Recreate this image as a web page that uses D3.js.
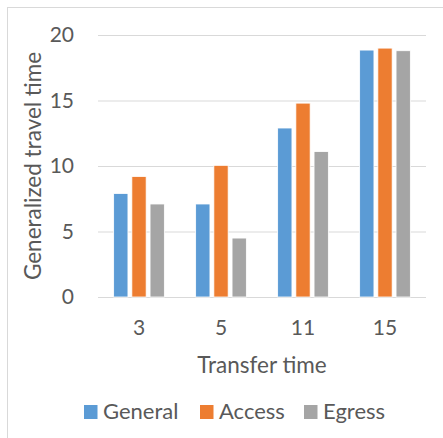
<!DOCTYPE html>
<html>
<head>
<meta charset="utf-8">
<script src="https://cdn.jsdelivr.net/npm/d3@7"></script>
<style>
  html, body { margin: 0; padding: 0; background: #fff; }
  svg { display: block; font-family: Lato, "Open Sans", sans-serif; }
</style>
</head>
<body>
<svg id="chart" width="443" height="438"></svg>
<script>
// Categories (transfer time) and series values (generalized travel time)
const categories = ["3", "5", "11", "15"];
const seriesNames = ["General", "Access", "Egress"];
const general = [7.9, 7.1, 12.9, 18.85];
const access = [9.2, 10.05, 14.8, 19.0];
const egress = [7.1, 4.5, 11.1, 18.8];
const yTicks = [0, 5, 10, 15, 20];
const colors = ["#5b9bd5", "#ed7d31", "#a5a5a5"];

const seriesValues = [general, access, egress];
const rows = categories.map((c, i) => ({
  cat: c,
  values: seriesNames.map((s, j) => ({ key: s, value: seriesValues[j][i] }))
}));

const svg = d3.select("#chart");
const textColor = "#595959";
const gridColor = "#d9d9d9";

// chart frame (only top/left edges fall inside the view)
svg.append("rect")
  .attr("x", 7.5).attr("y", 7.5)
  .attr("width", 600).attr("height", 600)
  .attr("fill", "none").attr("stroke", gridColor).attr("stroke-width", 1);

const plot = { left: 98, right: 426, top: 35, bottom: 297 };

const x0 = d3.scaleBand().domain(categories).range([plot.left, plot.right]).padding(0);
const x1 = d3.scaleBand().domain(seriesNames).range([0, x0.bandwidth()])
  .paddingInner(0.214).paddingOuter(0.86);
const y = d3.scaleLinear().domain([0, 20]).range([plot.bottom, plot.top]);
const color = d3.scaleOrdinal().domain(seriesNames).range(colors);

// gridlines and y tick labels
const yAxis = d3.axisLeft(y).tickValues(yTicks).tickSize(-(plot.right - plot.left)).tickPadding(24);
const gy = svg.append("g").attr("transform", `translate(${plot.left},0)`).call(yAxis);
gy.select(".domain").remove();
gy.selectAll(".tick line").attr("stroke", gridColor).attr("stroke-width", 1.2);
gy.selectAll(".tick text")
  .attr("fill", textColor).attr("font-size", 21).attr("font-family", "Lato, sans-serif");

// bars
svg.append("g").selectAll("g")
  .data(rows).join("g")
  .attr("transform", d => `translate(${x0(d.cat)},0)`)
  .selectAll("rect")
  .data(d => d.values).join("rect")
  .attr("x", d => x1(d.key))
  .attr("y", d => y(d.value))
  .attr("width", x1.bandwidth())
  .attr("height", d => y(0) - y(d.value))
  .attr("fill", d => color(d.key))
  .attr("stroke", "#fff").attr("stroke-width", 0.8);

// x axis category labels
const xAxis = d3.axisBottom(x0).tickSize(0).tickPadding(23);
const gx = svg.append("g").attr("transform", `translate(0,${plot.bottom})`).call(xAxis);
gx.select(".domain").remove();
gx.selectAll(".tick text")
  .attr("fill", textColor).attr("font-size", 21).attr("font-family", "Lato, sans-serif");

// axis titles
svg.append("text")
  .attr("x", (plot.left + plot.right) / 2).attr("y", 373)
  .attr("text-anchor", "middle").attr("fill", textColor).attr("font-size", 22.5)
  .text("Transfer time");

svg.append("text")
  .attr("transform", `translate(41,${(plot.top + plot.bottom) / 2}) rotate(-90)`)
  .attr("text-anchor", "middle").attr("fill", textColor).attr("font-size", 22.5)
  .text("Generalized travel time");

// legend
const legendX = [84, 200, 304];
const legend = svg.append("g").selectAll("g")
  .data(seriesNames).join("g")
  .attr("transform", (d, i) => `translate(${legendX[i]},0)`);
legend.append("rect")
  .attr("x", 0).attr("y", 405).attr("width", 13.5).attr("height", 14)
  .attr("fill", d => color(d));
legend.append("text")
  .attr("x", 19).attr("y", 419)
  .attr("fill", textColor).attr("font-size", 22)
  .text(d => d);
</script>
</body>
</html>
